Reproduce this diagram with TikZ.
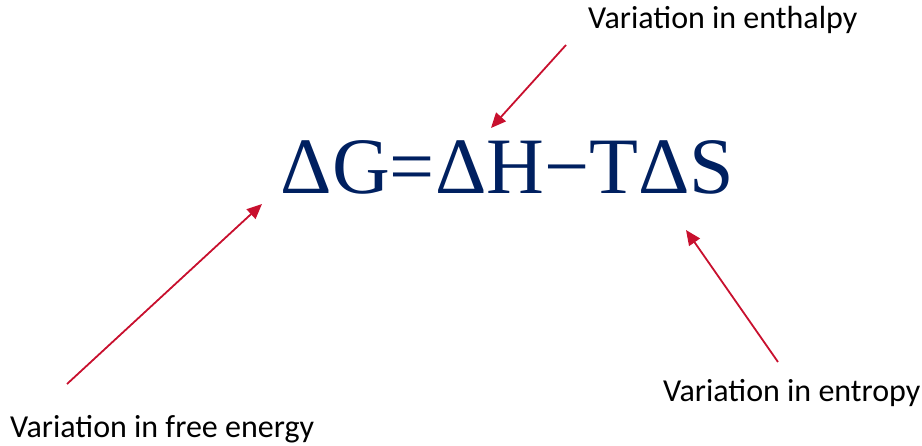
\documentclass[tikz,border=0pt]{standalone}
\usepackage{fontspec}
\setmainfont{Carlito}
\newfontfamily\eqfont{Liberation Serif}
\usetikzlibrary{arrows.meta}
\definecolor{navy}{RGB}{0,32,96}
\definecolor{arrred}{RGB}{200,16,46}
\begin{document}
\begin{tikzpicture}[x=1pt,y=-1pt,
  lbl/.style={inner sep=0pt,font=\fontsize{32}{36}\selectfont,text=black},
  arr/.style={draw=arrred,line width=1.8pt,-{Triangle[length=15pt,width=13pt]}}]
\useasboundingbox (0,0) rectangle (922,446);
\node[inner sep=0pt,text=navy,font=\eqfont\fontsize{80}{90}\selectfont] (eq) at (507.5,167) {ΔG=ΔH−TΔS};
\node[lbl,anchor=west] (enth) at (588,20) {Variation in enthalpy};
\node[lbl,anchor=west] (free) at (10,429) {Variation in free energy};
\node[lbl,anchor=west] (entr) at (663,393) {Variation in entropy};
\coordinate (s1) at (566,45);
\coordinate (t1) at (491,128);
\coordinate (s2) at (67,384);
\coordinate (t2) at (262,204);
\coordinate (s3) at (778,362);
\coordinate (t3) at (686,230);
\draw[arr] (s1) -- (t1);
\draw[arr] (s2) -- (t2);
\draw[arr] (s3) -- (t3);
\end{tikzpicture}
\end{document}
